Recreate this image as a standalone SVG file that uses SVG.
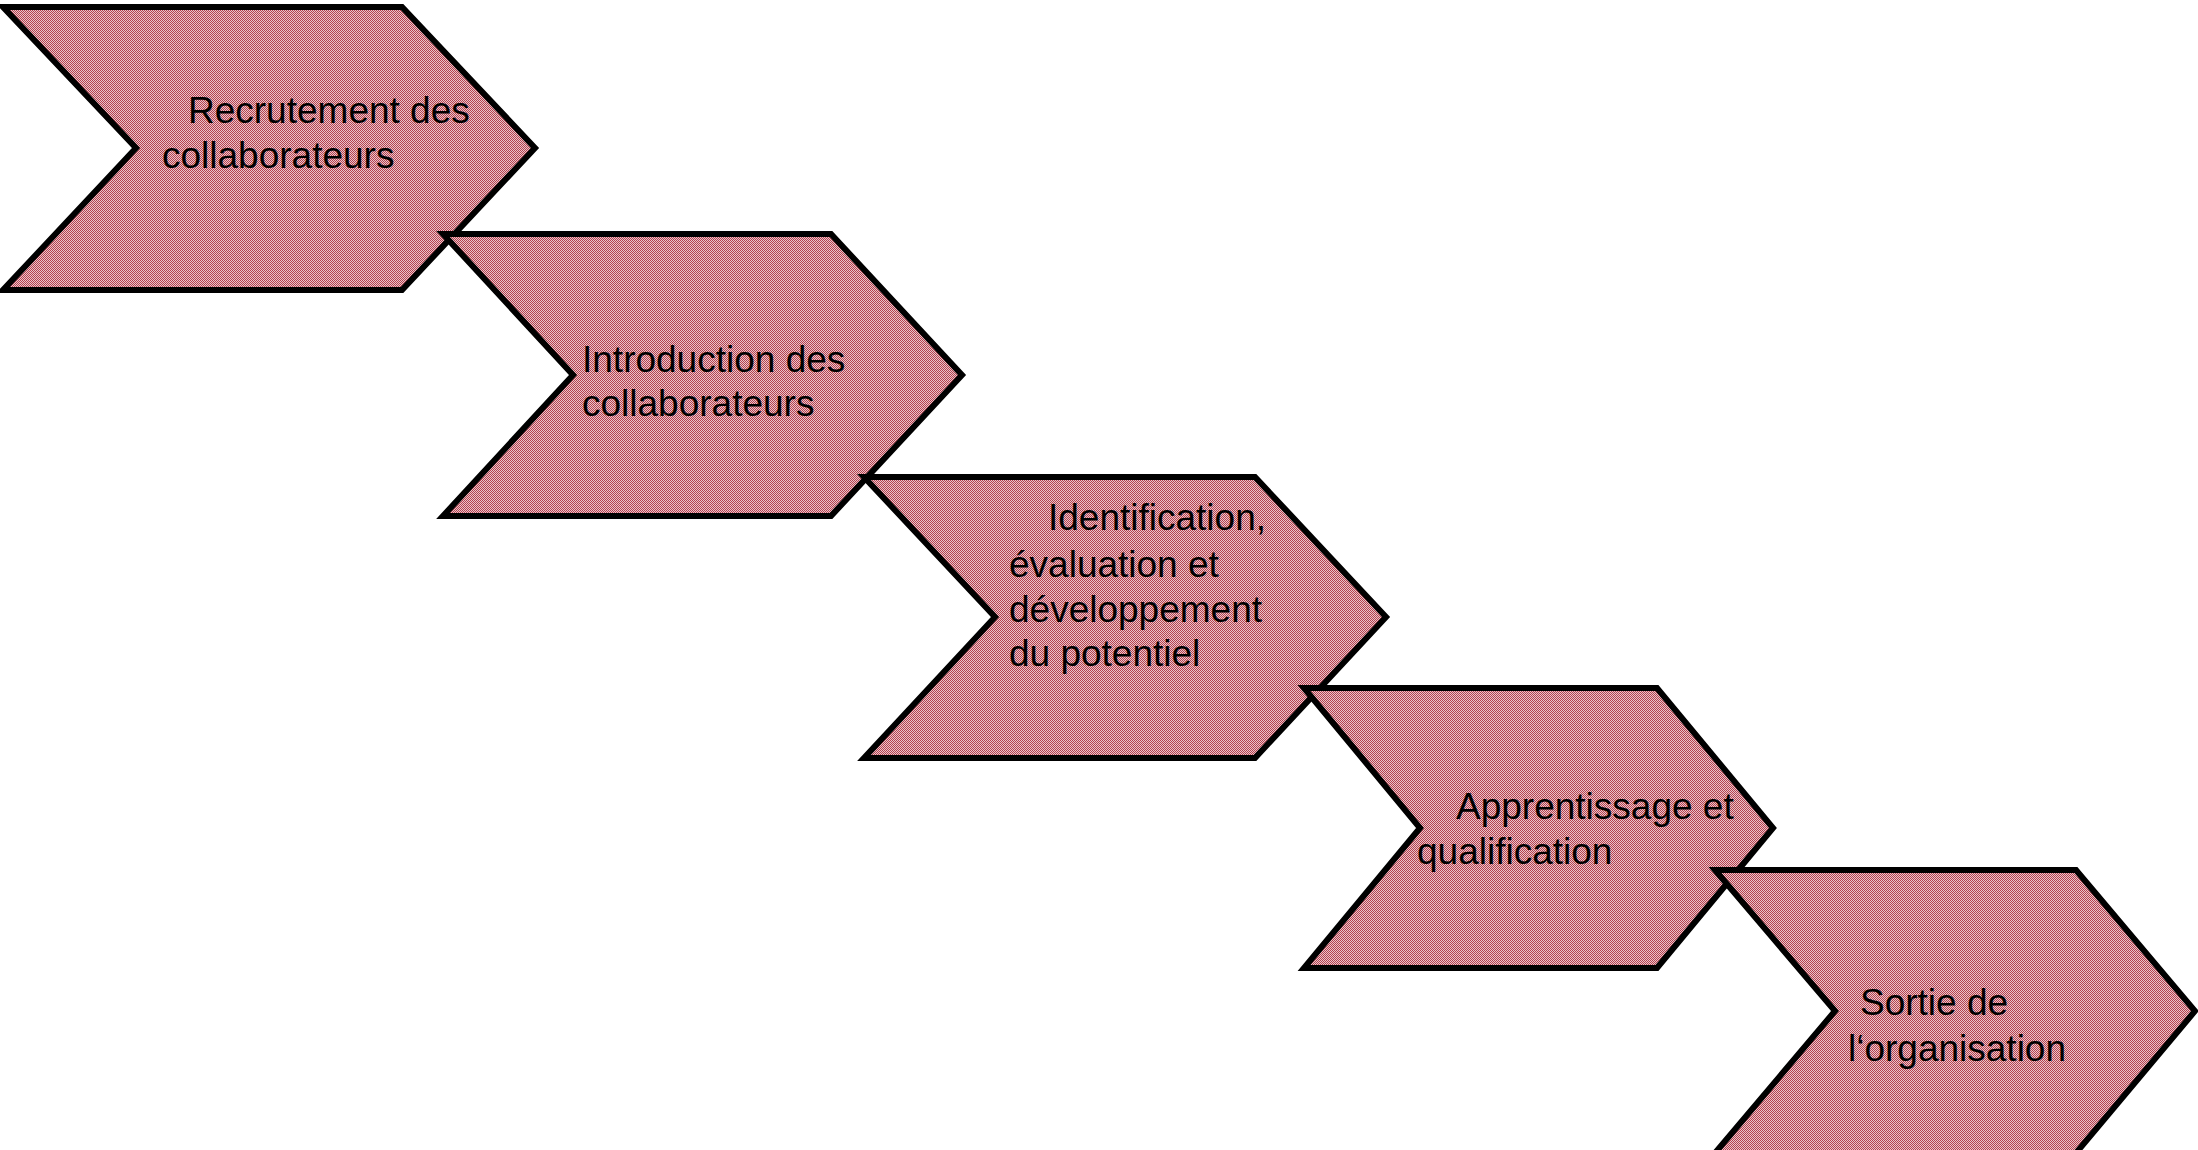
<svg xmlns="http://www.w3.org/2000/svg" width="2198" height="1150" viewBox="0 0 2198 1150">
  <defs>
    <pattern id="chk" patternUnits="userSpaceOnUse" width="2" height="2">
      <rect width="2" height="2" fill="#eac4ca"/>
      <rect x="0" y="0" width="1" height="1" fill="#b4424f"/>
      <rect x="1" y="1" width="1" height="1" fill="#b4424f"/>
    </pattern>
    <style>
      .chev { fill: url(#chk); stroke: #000; stroke-width: 6; stroke-linejoin: miter; stroke-miterlimit: 10; }
      .lbl { font-family: "Liberation Sans", Arial, sans-serif; font-size: 37px; fill: #000; }
    </style>
  </defs>
  <rect width="2198" height="1150" fill="#fff"/>
  <g id="connectors"></g>
  <g id="node1">
    <polygon class="chev" points="3,7 402,7 535,148 402,290 3,290 136,148"/>
    <text class="lbl" x="188" y="123">Recrutement des</text>
    <text class="lbl" x="162" y="168">collaborateurs</text>
  </g>
  <g id="node2">
    <polygon class="chev" points="443,234 831,234 962,375 831,516 443,516 573,375"/>
    <text class="lbl" x="582" y="372">Introduction des</text>
    <text class="lbl" x="582" y="416">collaborateurs</text>
  </g>
  <g id="node3">
    <polygon class="chev" points="864,477 1255,477 1386,617 1255,758 864,758 995,617"/>
    <text class="lbl" x="1048" y="530">Identification,</text>
    <text class="lbl" x="1009" y="577">évaluation et</text>
    <text class="lbl" x="1009" y="622">développement</text>
    <text class="lbl" x="1009" y="666">du potentiel</text>
  </g>
  <g id="node4">
    <polygon class="chev" points="1304,688 1657,688 1773,828 1657,968 1304,968 1420,828"/>
    <text class="lbl" x="1456" y="819">Apprentissage et</text>
    <text class="lbl" x="1417" y="864">qualification</text>
  </g>
  <g id="node5">
    <polygon class="chev" points="1715,870 2076,870 2195,1011 2076,1153 1715,1153 1835,1011"/>
    <text class="lbl" x="1860" y="1015">Sortie de</text>
    <text class="lbl" x="1848" y="1061">l‘organisation</text>
  </g>
</svg>
